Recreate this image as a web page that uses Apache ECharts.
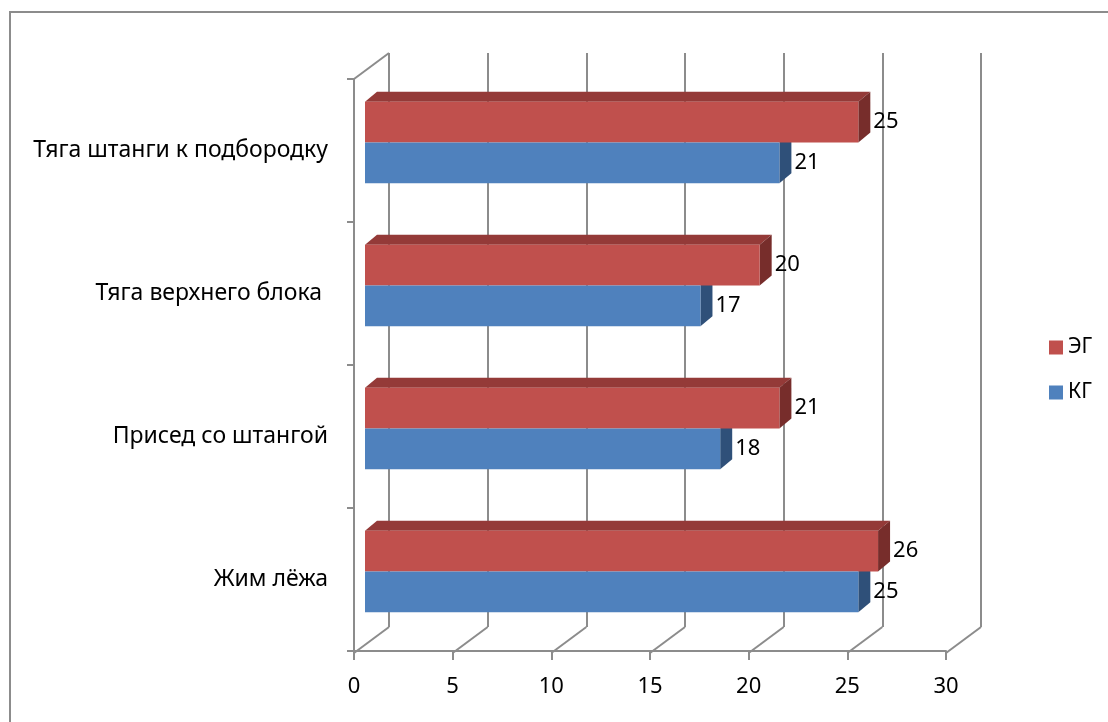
<!DOCTYPE html>
<html>
<head>
<meta charset="utf-8">
<script src="https://cdn.jsdelivr.net/npm/echarts@6/dist/echarts.min.js"></script>
<style>
  html, body { margin: 0; padding: 0; background: #fff; }
  #myChart { width: 1108px; height: 722px; }
</style>
</head>
<body>
<div id="myChart"></div>
<script>
var myChart = echarts.init(document.getElementById('myChart'));

// categories bottom -> top
var categories = ['Жим лёжа', 'Присед со штангой', 'Тяга верхнего блока ', 'Тяга штанги к подбородку'];
var egValues = [26, 21, 20, 25]; // ЭГ
var kgValues = [25, 18, 17, 21]; // КГ
var xTicks = [0, 5, 10, 15, 20, 25, 30];

var gridColor = '#8c8c8c';
var font = 'Noto Sans';
var gapPct = 0.43;

// 3d faces for bars (top + side), drawn under the front faces
var faceData = categories.map(function (c, i) {
    return [i, kgValues[i], egValues[i]];
});

// frame diagonals: floor lines from each x tick, plus top of left wall
var frameData = xTicks.map(function (v) { return [v, 0]; });
frameData.push([0, 1]);

option = {
    backgroundColor: '#fff',
    animation: false,
    graphic: [{
        type: 'rect',
        shape: { x: 10, y: 12, width: 1200, height: 800 },
        style: { fill: 'none', stroke: gridColor, lineWidth: 2 },
        silent: true
    }],
    legend: {
        data: ['ЭГ', 'КГ'],
        orient: 'vertical',
        left: 1044,
        top: 332,
        itemWidth: 14,
        itemHeight: 14,
        itemGap: 24,
        icon: 'rect',
        textStyle: { fontFamily: font, fontSize: 21, color: '#000' }
    },
    grid: [
        // front plane
        { left: 354, top: 79, width: 592, height: 572 },
        // back wall
        { left: 389, top: 53, width: 592, height: 574 },
        // bars (mid depth)
        { left: 365, top: 71, width: 592, height: 572 }
    ],
    xAxis: [
        {
            gridIndex: 0, type: 'value', min: 0, max: 30, interval: 5,
            axisLine: { show: true, lineStyle: { color: gridColor, width: 2 } },
            axisTick: { show: true, length: 9, lineStyle: { color: gridColor, width: 2 } },
            axisLabel: { fontFamily: font, fontSize: 22, color: '#000', margin: 25 },
            splitLine: { show: false }
        },
        {
            gridIndex: 1, type: 'value', min: 0, max: 30, interval: 5,
            axisLine: { show: false }, axisTick: { show: false }, axisLabel: { show: false },
            splitLine: { show: true, lineStyle: { color: gridColor, width: 2 } }
        },
        {
            gridIndex: 2, type: 'value', min: 0, max: 30, interval: 5, show: false
        }
    ],
    yAxis: [
        {
            gridIndex: 0, type: 'category', data: categories,
            axisLine: { show: true, lineStyle: { color: gridColor, width: 2 } },
            axisTick: { show: true, length: 7, lineStyle: { color: gridColor, width: 2 } },
            axisLabel: { fontFamily: font, fontSize: 23, color: '#000', margin: 26 }
        },
        {
            gridIndex: 1, type: 'value', min: 0, max: 1, show: false,
            splitLine: { show: false }
        },
        {
            gridIndex: 2, type: 'category', data: categories, show: false
        }
    ],
    series: [
        {
            name: 'frame',
            type: 'custom',
            xAxisIndex: 1,
            yAxisIndex: 1,
            silent: true,
            data: frameData,
            renderItem: function (params, api) {
                var p = api.coord([api.value(0), api.value(1)]);
                return {
                    type: 'line',
                    shape: { x1: p[0], y1: p[1], x2: p[0] - 35, y2: p[1] + 26 },
                    style: { stroke: gridColor, lineWidth: 2 }
                };
            },
            z: 1
        },
        {
            name: 'faces',
            type: 'custom',
            xAxisIndex: 2,
            yAxisIndex: 2,
            silent: true,
            data: faceData,
            renderItem: function (params, api) {
                var cat = api.value(0);
                var c0 = api.coord([0, cat]);
                var band = api.size([0, 1])[1];
                var half = band * (1 - gapPct) / 2;
                var yc = c0[1];
                var x0 = c0[0];
                var xk = api.coord([api.value(1), cat])[0];
                var xe = api.coord([api.value(2), cat])[0];
                var dx = 12, dy = -10;
                var egTop = yc - half, egBot = yc;
                var kgTop = yc, kgBot = yc + half;
                return {
                    type: 'group',
                    children: [
                        {
                            type: 'polygon',
                            shape: { points: [[xk, kgTop], [xk + dx, kgTop + dy], [xk + dx, kgBot + dy], [xk, kgBot]] },
                            style: { fill: '#2f5079' }
                        },
                        {
                            type: 'polygon',
                            shape: { points: [[x0, egTop], [x0 + dx, egTop + dy], [xe + dx, egTop + dy], [xe, egTop]] },
                            style: { fill: '#943a38' }
                        },
                        {
                            type: 'polygon',
                            shape: { points: [[xe, egTop], [xe + dx, egTop + dy], [xe + dx, egBot + dy], [xe, egBot]] },
                            style: { fill: '#772d2b' }
                        }
                    ]
                };
            },
            z: 2
        },
        {
            name: 'ЭГ',
            type: 'bar',
            xAxisIndex: 2,
            yAxisIndex: 2,
            data: egValues,
            barGap: 0,
            barCategoryGap: '43%',
            itemStyle: { color: '#c0504d' },
            label: {
                show: true, position: 'right', distance: 15,
                fontFamily: font, fontSize: 22, color: '#000'
            },
            z: 3
        },
        {
            name: 'КГ',
            type: 'bar',
            xAxisIndex: 2,
            yAxisIndex: 2,
            data: kgValues,
            barGap: 0,
            barCategoryGap: '43%',
            itemStyle: { color: '#4f81bd' },
            label: {
                show: true, position: 'right', distance: 15,
                fontFamily: font, fontSize: 22, color: '#000'
            },
            z: 3
        }
    ]
};

myChart.setOption(option);
</script>
</body>
</html>
